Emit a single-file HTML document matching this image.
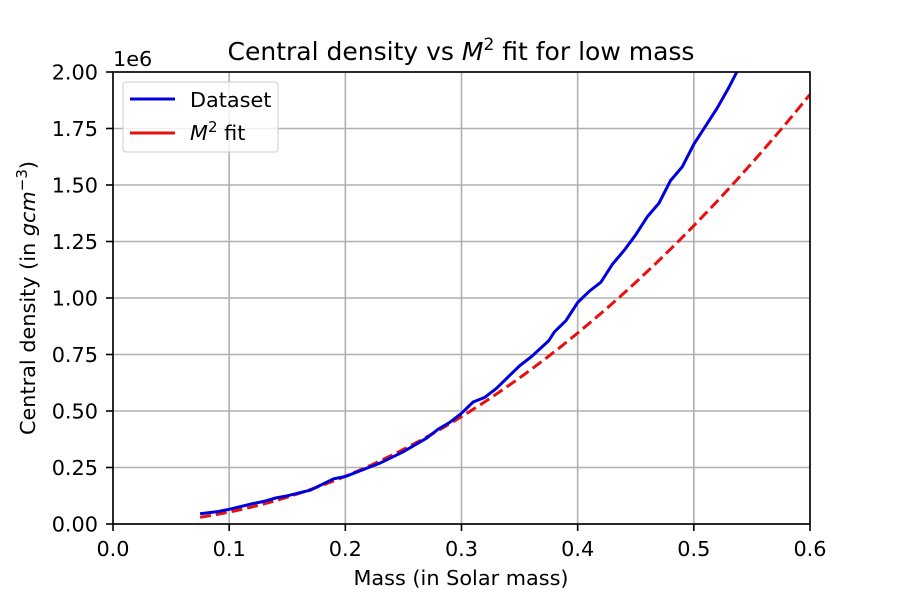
<!DOCTYPE html>
<html><head><meta charset="utf-8"><style>
body{margin:0;background:#fff;font-family:"DejaVu Sans","Liberation Sans",sans-serif}
</style></head><body>
<svg width="900" height="600" xmlns="http://www.w3.org/2000/svg" font-family="DejaVu Sans, Liberation Sans, sans-serif">
<rect width="900" height="600" fill="#fff"/>
<g id="grid"></g>
<g id="ticks" font-size="20.8" fill="#000"></g>
<g id="series"></g>
<rect x="113" y="72" width="697" height="452" fill="none" stroke="#000" stroke-width="1.6"/>
<text x="461" y="60" text-anchor="middle" font-size="25">Central density vs <tspan font-style="italic">M</tspan><tspan font-size="17" dy="-10">2</tspan><tspan dy="10"> fit for low mass</tspan></text>
<text x="113" y="66" font-size="20.8">1e6</text>
<text x="461" y="585" text-anchor="middle" font-size="20.8">Mass (in Solar mass)</text>
<text transform="translate(35,298) rotate(-90)" text-anchor="middle" font-size="20.8">Central density (in <tspan font-style="italic">gcm</tspan><tspan font-size="15" dy="-8">−3</tspan><tspan dy="8">)</tspan></text>
<g>
<rect x="123" y="82" width="155" height="70" rx="3" fill="#fff" fill-opacity="0.8" stroke="#ccc"/>
<line x1="130" y1="99" x2="175" y2="99" stroke="#0000dd" stroke-width="3"/>
<text x="190" y="107" font-size="20.8">Dataset</text>
<line x1="130" y1="133" x2="175" y2="133" stroke="#e8100f" stroke-width="3"/>
<text x="190" y="140" font-size="20.8"><tspan font-style="italic">M</tspan><tspan font-size="15" dy="-8">2</tspan><tspan dy="8"> fit</tspan></text>
</g>
</svg>
<script>
const massValues=[0.075,0.09,0.1,0.12,0.13,0.14,0.15,0.17,0.19,0.2,0.22,0.23,0.25,0.27,0.28,0.29,0.30,0.31,0.32,0.33,0.34,0.35,0.36,0.375,0.38,0.39,0.40,0.41,0.42,0.43,0.44,0.45,0.46,0.47,0.48,0.49,0.50,0.51,0.52,0.53,0.537];
const densityValues=[0.045,0.055,0.065,0.09,0.1,0.115,0.125,0.15,0.2,0.21,0.25,0.27,0.32,0.38,0.42,0.45,0.49,0.54,0.56,0.6,0.65,0.7,0.74,0.81,0.85,0.9,0.98,1.03,1.07,1.15,1.21,1.28,1.36,1.42,1.52,1.58,1.68,1.76,1.84,1.93,2.0];
const fitCoef=[5.28];
const fitRange=[0.075,0.6];
const xTicks=[0,0.1,0.2,0.3,0.4,0.5,0.6];
const xTickLabels=["0.0","0.1","0.2","0.3","0.4","0.5","0.6"];
const yTicks=[0,0.25,0.5,0.75,1,1.25,1.5,1.75,2];
const yTickLabels=["0.00","0.25","0.50","0.75","1.00","1.25","1.50","1.75","2.00"];
const X0=113,X1=810,Y0=524,Y1=72;
const sx=v=>X0+(v-0)/(0.6)*(X1-X0);
const sy=v=>Y0-(v-0)/(2)*(Y0-Y1);
const NS="http://www.w3.org/2000/svg";
const mk=(t,a,p)=>{const e=document.createElementNS(NS,t);for(const k in a)e.setAttribute(k,a[k]);p.appendChild(e);return e;};
const grid=document.getElementById('grid'),ticks=document.getElementById('ticks'),series=document.getElementById('series');
xTicks.forEach((v,i)=>{
 const g=mk('line',{x1:sx(v),x2:sx(v),y1:Y1,y2:Y0,stroke:'#b0b0b0','stroke-width':1.6},grid);
 
 
 const t=mk('line',{x1:sx(v),x2:sx(v),y1:Y0,y2:Y0+7,stroke:'#000','stroke-width':1.6},ticks);
 
 
 const l=mk('text',{x:sx(v),y:Y0+32,'text-anchor':'middle'},ticks);l.textContent=xTickLabels[i];
 
 
});
yTicks.forEach((v,i)=>{
 const g=mk('line',{x1:X0,x2:X1,y1:sy(v),y2:sy(v),stroke:'#b0b0b0','stroke-width':1.6},grid);
 
 
 const t=mk('line',{x1:X0-7,x2:X0,y1:sy(v),y2:sy(v),stroke:'#000','stroke-width':1.6},ticks);
 
 
 const l=mk('text',{x:X0-15,y:sy(v)+7.5,'text-anchor':'end'},ticks);l.textContent=yTickLabels[i];
 
 
});
let fp=[];
for(let i=0;i<=100;i++){const m=fitRange[0]+(fitRange[1]-fitRange[0])*i/100;fp.push(sx(m).toFixed(1)+','+sy(fitCoef[0]*m*m).toFixed(1));}
const fit=mk('polyline',{points:fp.join(' '),fill:'none',stroke:'#e8100f','stroke-width':3,'stroke-dasharray':'11,5'},series);


const dp=massValues.map((m,i)=>sx(m).toFixed(1)+','+sy(densityValues[i]).toFixed(1)).join(' ');
const ds=mk('polyline',{points:dp,fill:'none',stroke:'#0000dd','stroke-width':3},series);


</script>
</body></html>
